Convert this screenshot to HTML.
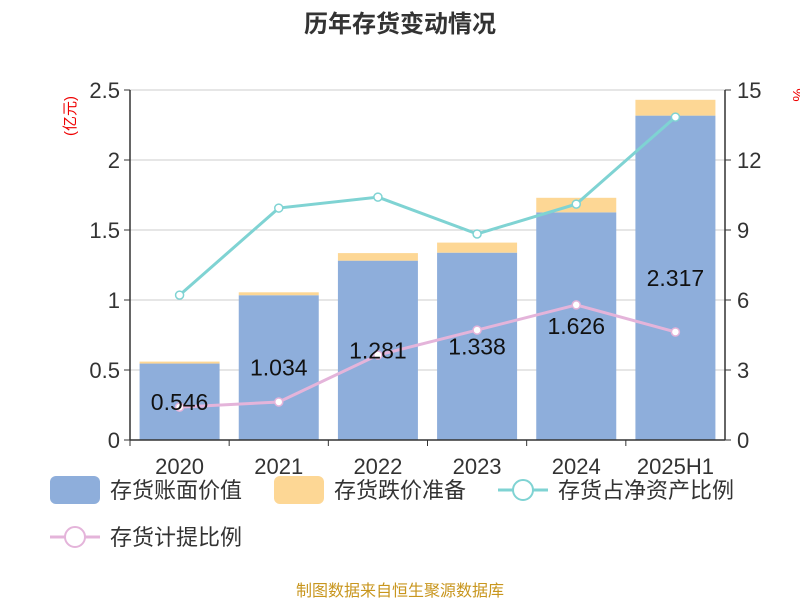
<!DOCTYPE html>
<html><head><meta charset="utf-8"><style>
body{margin:0;background:#fff;font-family:"Liberation Sans","Noto Sans CJK SC",sans-serif}
</style></head><body>
<svg id="c" width="800" height="600" xmlns="http://www.w3.org/2000/svg" font-family="Liberation Sans, Noto Sans CJK SC, sans-serif"></svg>
<script>
const categories=["2020","2021","2022","2023","2024","2025H1"];
const bookValue=[0.546,1.034,1.281,1.338,1.626,2.317];
const reserve=[0.014,0.021,0.054,0.072,0.104,0.113];
const ratioNet=[6.21,9.94,10.41,8.83,10.11,13.84];
const ratioProv=[1.41,1.63,3.64,4.71,5.79,4.63];
const leftTicks=[0,0.5,1,1.5,2,2.5];
const leftTickLabels=["0","0.5","1","1.5","2","2.5"];
const rightTicks=[0,3,6,9,12,15];
const x0=130,x1=725,yTop=90,yBot=440;
const yL=v=>yBot-(v/2.5)*(yBot-yTop);
const yR=v=>yBot-(v/15)*(yBot-yTop);
const band=(x1-x0)/categories.length;
const xc=i=>x0+band*(i+0.5);
const svg=document.getElementById('c');
const NS="http://www.w3.org/2000/svg";
function mk(t,a,txt,name){const e=document.createElementNS(NS,t);for(const k in a)e.setAttribute(k,a[k]);if(txt!=null)e.textContent=txt;


svg.appendChild(e);return e;}
mk('text',{x:400,y:32,'text-anchor':'middle','font-size':24,'font-weight':'bold',fill:'#333'},'历年存货变动情况','chart-title');
leftTicks.forEach((v,i)=>{
 if(v>0)mk('line',{x1:x0,x2:x1,y1:yL(v),y2:yL(v),stroke:'#ccc','stroke-width':1},null,'grid-line');
 mk('line',{x1:x0-6,x2:x0,y1:yL(v),y2:yL(v),stroke:'#333'},null,'left-tick');
 mk('text',{x:x0-10,y:yL(v)+8,'text-anchor':'end','font-size':22,fill:'#333'},leftTickLabels[i],'left-tick-label');
});
rightTicks.forEach(v=>{
 mk('line',{x1:x1,x2:x1+6,y1:yR(v),y2:yR(v),stroke:'#333'},null,'right-tick');
 mk('text',{x:x1+12,y:yR(v)+8,'font-size':22,fill:'#333'},String(v),'right-tick-label');
});
mk('text',{x:0,y:0,transform:'translate(75,116) rotate(-90)','text-anchor':'middle','font-size':15,fill:'#e00'},'(亿元)','left-axis-title');
mk('text',{x:0,y:0,transform:'translate(803,95) rotate(-90)','text-anchor':'middle','font-size':15,fill:'#e00'},'%','right-axis-title');
categories.forEach((c,i)=>{
 const bw=80,x=xc(i)-bw/2;
 mk('rect',{x:x,y:yL(bookValue[i]),width:bw,height:yBot-yL(bookValue[i]),fill:'#8eaedb'},null,'bar-book-'+c);
 mk('rect',{x:x,y:yL(bookValue[i]+reserve[i]),width:bw,height:yL(bookValue[i])-yL(bookValue[i]+reserve[i]),fill:'#fdd795'},null,'bar-reserve-'+c);
 mk('line',{x1:xc(i)-band/2,x2:xc(i)-band/2,y1:yBot,y2:yBot+6,stroke:'#333'},null,'x-tick');
 mk('text',{x:xc(i),y:474,'text-anchor':'middle','font-size':22,fill:'#333'},c,'x-tick-label');
});
mk('line',{x1:x0,x2:x0,y1:yTop,y2:yBot,stroke:'#333','stroke-width':1.5},null,'left-axis');
mk('line',{x1:x1,x2:x1,y1:yTop,y2:yBot,stroke:'#333','stroke-width':1.5},null,'right-axis');
mk('line',{x1:x0,x2:x1,y1:yBot,y2:yBot,stroke:'#333','stroke-width':1.5},null,'x-axis');
function line(vals,color,name){
 mk('polyline',{points:vals.map((v,i)=>xc(i)+','+yR(v)).join(' '),fill:'none',stroke:color,'stroke-width':3},null,name+'-line');
 vals.forEach((v,i)=>mk('circle',{cx:xc(i),cy:yR(v),r:4,fill:'#fff',stroke:color,'stroke-width':1.5},null,name+'-point'));
}
line(ratioNet,'#7fd3d3','ratio-net');
line(ratioProv,'#e4b4da','ratio-prov');
categories.forEach((c,i)=>{
 mk('text',{x:xc(i),y:yL(bookValue[i]/2)+8,'text-anchor':'middle','font-size':23,fill:'#111'},bookValue[i].toFixed(3),'value-label');
});
// legend
mk('rect',{x:50,y:476,width:50,height:28,rx:6,fill:'#8eaedb'},null,'legend-book-swatch');
mk('text',{x:110,y:498,'font-size':22,fill:'#333'},'存货账面价值','legend-book');
mk('rect',{x:274,y:476,width:50,height:28,rx:6,fill:'#fdd795'},null,'legend-reserve-swatch');
mk('text',{x:334,y:498,'font-size':22,fill:'#333'},'存货跌价准备','legend-reserve');
mk('line',{x1:498,x2:548,y1:490,y2:490,stroke:'#7fd3d3','stroke-width':3},null,'legend-net-line');
mk('circle',{cx:523,cy:490,r:10,fill:'#fff',stroke:'#7fd3d3','stroke-width':2},null,'legend-net-marker');
mk('text',{x:558,y:498,'font-size':22,fill:'#333'},'存货占净资产比例','legend-net');
mk('line',{x1:50,x2:100,y1:537,y2:537,stroke:'#e4b4da','stroke-width':3},null,'legend-prov-line');
mk('circle',{cx:75,cy:537,r:10,fill:'#fff',stroke:'#e4b4da','stroke-width':2},null,'legend-prov-marker');
mk('text',{x:110,y:545,'font-size':22,fill:'#333'},'存货计提比例','legend-prov');
mk('text',{x:400,y:596,'text-anchor':'middle','font-size':16,fill:'#c8961e'},'制图数据来自恒生聚源数据库','source-note');
</script>
</body></html>
